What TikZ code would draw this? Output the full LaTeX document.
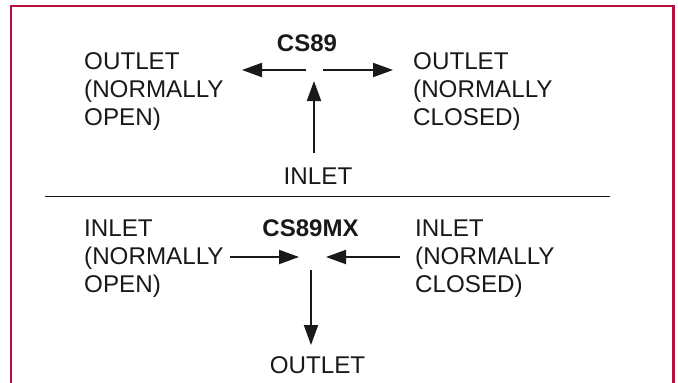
\documentclass[tikz,border=0pt]{standalone}
\usepackage{fontspec}
\setmainfont{Liberation Sans}
\usetikzlibrary{arrows.meta}
\definecolor{framered}{RGB}{181,18,62}
\definecolor{ink}{RGB}{25,25,25}
\begin{document}
\begin{tikzpicture}[x=1pt,y=-1pt,
  lbl/.style={inner sep=0pt,align=left,anchor=north west,font=\fontsize{24.2}{28}\selectfont,text=ink},
  ttl/.style={inner sep=0pt,anchor=base,font=\fontsize{24}{28}\selectfont\bfseries,text=ink},
  flow/.style={-{Triangle[length=20pt,width=14pt]},line width=2pt,draw=ink}]
  \useasboundingbox (0,0) rectangle (678,383);
  \draw[framered,line width=2.2pt] (11,383) -- (11,6) -- (673.5,6) -- (673.5,383);
  \draw[ink,line width=1.3pt] (44.5,196.3) -- (610,196.3);

  \node[ttl] (cs) at (307,51) {CS89};
  \node[lbl] (outNO) at (84,52) {OUTLET\\(NORMALLY\\OPEN)};
  \node[lbl] (outNC) at (413,52) {OUTLET\\(NORMALLY\\CLOSED)};
  \node[lbl,anchor=base] (inTop) at (318,184) {INLET};
  \coordinate (hubAL) at (306,70);
  \coordinate (hubAR) at (323,70);
  \coordinate (hubAB) at (314,81);
  \coordinate (tipAL) at (242,70);
  \coordinate (tipAR) at (393,70);
  \coordinate (tailAB) at (314,153);
  \draw[flow] (hubAL) -- (tipAL);
  \draw[flow] (hubAR) -- (tipAR);
  \draw[flow] (tailAB) -- (hubAB);

  \node[ttl] (csmx) at (310.5,236) {CS89MX};
  \node[lbl] (inNO) at (84,220) {INLET\\(NORMALLY\\OPEN)};
  \node[lbl] (inNC) at (415,220) {INLET\\(NORMALLY\\CLOSED)};
  \node[lbl,anchor=base] (outBot) at (317.5,373) {OUTLET};
  \coordinate (tailBL) at (230,257);
  \coordinate (tailBR) at (400,257);
  \coordinate (hubBT) at (311,270);
  \coordinate (hubBL) at (299,257);
  \coordinate (hubBR) at (326,257);
  \coordinate (tipBB) at (311,345);
  \draw[flow] (tailBL) -- (hubBL);
  \draw[flow] (tailBR) -- (hubBR);
  \draw[flow] (hubBT) -- (tipBB);
\end{tikzpicture}
\end{document}
